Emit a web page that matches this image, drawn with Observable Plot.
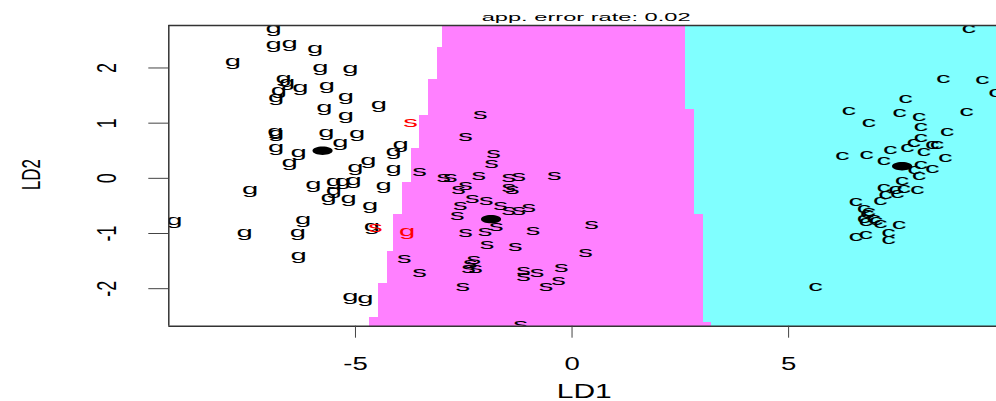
<!DOCTYPE html>
<html><head><meta charset="utf-8">
<script src="https://cdn.jsdelivr.net/npm/d3@7"></script>
<script src="https://cdn.jsdelivr.net/npm/@observablehq/plot@0.6"></script>
<style>body{margin:0;background:#fff;} svg{display:block;}</style>
</head><body><div id="chart"></div>
<script>
// ---- data ----
const xDomain = [-9.31, 9.80];
const yDomain = [-2.68, 2.77];
const xTicks = [-5, 0, 5];
const yTicks = [-2, -1, 0, 1, 2];
const title = "app. error rate: 0.02";
const xLabel = "LD1";
const yLabel = "LD2";

// partition boundaries (row edges in LD2, boundary position in LD1)
const sgRowEdges = [2.77, 2.37, 1.79, 1.14, 0.54, -0.07, -0.66, -1.32, -1.91, -2.52, -2.68];
const sgBoundary = [-2.98, -3.10, -3.31, -3.52, -3.71, -3.91, -4.13, -4.26, -4.46, -4.68];
const scRowEdges = [2.77, 1.24, -0.65, -2.61, -2.68];
const scBoundary = [2.62, 2.83, 3.04, 3.22];
const regionColors = {g: "#FFFFFF", s: "#FF80FF", c: "#80FFFF"};

const gLD1 = [-6.89,-6.89,-6.52,-5.93,-7.83,-5.81,-5.12,-6.66,-6.58,-6.27,-6.77,-6.83,-5.66,-5.22,-4.46,-5.72,-5.22,-6.85,-6.83,-5.67,-4.96,-6.83,-5.35,-6.31,-6.52,-3.96,-4.12,-4.70,-5.00,-4.12,-7.43,-5.97,-5.50,-5.29,-5.04,-4.35,-5.50,-5.62,-5.16,-4.66,-9.18,-6.21,-7.56,-6.33,-4.62,-6.31,-5.12,-4.77];
const gLD2 = [2.72,2.43,2.45,2.36,2.13,2.01,2.00,1.81,1.74,1.66,1.59,1.47,1.68,1.48,1.35,1.29,1.15,0.85,0.82,0.83,0.82,0.56,0.65,0.47,0.29,0.62,0.50,0.32,0.20,0.18,-0.19,-0.10,-0.05,-0.05,-0.04,-0.13,-0.22,-0.34,-0.36,-0.49,-0.75,-0.74,-0.98,-0.98,-0.86,-1.40,-2.14,-2.17];
const sLD1 = [-2.12,-2.46,-1.81,-1.86,-3.52,-2.96,-2.81,-2.15,-1.46,-1.23,-0.41,-2.62,-2.46,-1.46,-1.38,-2.30,-1.98,-2.58,-1.65,-1.46,-1.23,-1.00,-2.65,-1.75,-2.46,-2.01,-0.90,0.45,-1.96,-1.31,0.31,-3.87,-3.52,-2.27,-2.39,-2.23,-1.12,-1.12,-0.81,-0.25,-0.31,-0.60,-2.52,-1.19,-2.35];
const sLD2 = [1.17,0.76,0.45,0.27,0.13,0.02,0.02,0.05,0.02,0.04,0.05,-0.19,-0.13,-0.16,-0.20,-0.36,-0.39,-0.49,-0.49,-0.57,-0.57,-0.52,-0.67,-0.86,-0.97,-0.95,-0.94,-0.84,-1.19,-1.23,-1.34,-1.45,-1.70,-1.47,-1.62,-1.62,-1.67,-1.78,-1.70,-1.61,-1.84,-1.96,-1.96,-2.64,-1.53];
const cLD1 = [9.16,8.57,9.47,9.78,7.70,6.39,7.56,8.01,9.11,6.85,8.05,8.66,8.05,7.89,8.32,8.43,7.74,7.35,8.12,6.24,6.80,7.20,8.62,8.05,8.32,7.91,8.01,7.62,7.20,7.47,7.66,7.97,7.24,7.51,7.12,6.55,6.74,6.85,6.74,6.97,6.78,7.12,7.55,7.31,6.55,6.78,7.31,5.62,6.82,7.02];
const cLD2 = [2.72,1.81,1.79,1.56,1.45,1.23,1.20,1.12,1.21,1.01,0.94,0.85,0.74,0.65,0.62,0.62,0.56,0.53,0.49,0.42,0.44,0.32,0.38,0.26,0.19,0.17,0.05,-0.04,-0.16,-0.20,-0.17,-0.20,-0.28,-0.27,-0.40,-0.42,-0.54,-0.59,-0.72,-0.72,-0.78,-0.81,-0.84,-0.98,-1.04,-1.01,-1.11,-1.96,-0.64,-0.75];
// misclassified observations (drawn in red)
const errLabel = ["s", "s", "g"];
const errLD1 = [-3.73, -4.54, -3.81];
const errLD2 = [1.01, -0.89, -0.95];
// group means
const centroidLD1 = [-5.76, -1.87, 7.62];
const centroidLD2 = [0.50, -0.74, 0.22];

// ---- tables ----
const points = [
  ...gLD1.map((v, i) => ({ld1: v, ld2: gLD2[i], label: "g", wrong: false})),
  ...sLD1.map((v, i) => ({ld1: v, ld2: sLD2[i], label: "s", wrong: false})),
  ...cLD1.map((v, i) => ({ld1: v, ld2: cLD2[i], label: "c", wrong: false})),
  ...errLD1.map((v, i) => ({ld1: v, ld2: errLD2[i], label: errLabel[i], wrong: true}))
];
const sRows = sgBoundary.map((b, i) => ({x1: b, x2: xDomain[1], y1: sgRowEdges[i + 1], y2: sgRowEdges[i]}));
const cRows = scBoundary.map((b, i) => ({x1: b, x2: xDomain[1], y1: scRowEdges[i + 1], y2: scRowEdges[i]}));
const centroids = centroidLD1.map((v, i) => ({ld1: v, ld2: centroidLD2[i]}));
const plainNumber = d => String(d);

const ellipse = {
  draw(context, size) {
    const r = Math.sqrt(size / Math.PI), rx = r * 2.4, ry = r, k = 0.5523;
    context.moveTo(rx, 0);
    context.bezierCurveTo(rx, ry * k, rx * k, ry, 0, ry);
    context.bezierCurveTo(-rx * k, ry, -rx, ry * k, -rx, 0);
    context.bezierCurveTo(-rx, -ry * k, -rx * k, -ry, 0, -ry);
    context.bezierCurveTo(rx * k, -ry, rx, -ry * k, rx, 0);
    context.closePath();
  }
};

const chart = Plot.plot({
  width: 996,
  height: 401,
  marginLeft: 168.3,
  marginRight: 0,
  marginTop: 25,
  marginBottom: 75.3,
  style: {fontFamily: "'Liberation Sans', Arial, sans-serif", background: "white", color: "black"},
  x: {domain: xDomain},
  y: {domain: yDomain},
  marks: [
    Plot.rect(sRows, {x1: "x1", x2: "x2", y1: "y1", y2: "y2", fill: regionColors.s, shapeRendering: "crispEdges"}),
    Plot.rect(cRows, {x1: "x1", x2: "x2", y1: "y1", y2: "y2", fill: regionColors.c, shapeRendering: "crispEdges"}),
    Plot.text(points, {x: "ld1", y: "ld2", text: "label", fill: d => d.wrong ? "#FF0000" : "black",
      fontSize: 15, lineAnchor: "middle", textAnchor: "middle", clip: true}),
    Plot.dot(centroids, {x: "ld1", y: "ld2", r: 4.2, symbol: ellipse, fill: "black", stroke: "none"}),
    Plot.ruleY([yDomain[0], yDomain[1]], {stroke: "#333", strokeWidth: 1.5}),
    Plot.ruleX([xDomain[0]], {stroke: "#333", strokeWidth: 1.5}),
    Plot.axisX(xTicks, {tickSize: 12, tickPadding: 26, fontSize: 19, lineAnchor: "middle", textAnchor: "middle", stroke: "#444", tickFormat: plainNumber, label: null}),
    Plot.axisY(yTicks, {tickSize: 20, tickPadding: 41.6, tickRotate: -90, fontSize: 18, lineAnchor: "middle", textAnchor: "middle", stroke: "#444", tickFormat: plainNumber, label: null}),
    Plot.text([title], {frameAnchor: "top", dx: 3.5, dy: -8, fontSize: 11, lineAnchor: "middle", textAnchor: "middle"}),
    Plot.text([xLabel], {frameAnchor: "bottom", dx: 1.6, dy: 65.5, fontSize: 20, lineAnchor: "middle", textAnchor: "middle"}),
    Plot.text([yLabel], {frameAnchor: "left", dx: -137.3, dy: -1.3, rotate: -90, fontSize: 17, lineAnchor: "middle", textAnchor: "middle"})
  ]
});
document.getElementById("chart").appendChild(chart);

// widen the glyphs horizontally, as in the reference picture
const sxMap = {15: 1.95, 19: 1.45, 18: 1.5, 20: 1.5, 17: 1.5, 11: 2.15};
chart.querySelectorAll("text").forEach(t => {
  const holder = t.closest("[font-size]");
  const fs = holder ? parseFloat(holder.getAttribute("font-size")) : NaN;
  const sx = sxMap[fs];
  if (!sx) return;
  const tr = t.getAttribute("transform") || "";
  if (tr.includes("rotate(")) t.setAttribute("transform", tr.replace("rotate(", `scale(${sx},1) rotate(`));
  else t.setAttribute("transform", `${tr} scale(${sx},1)`);
});
</script>
</body></html>
